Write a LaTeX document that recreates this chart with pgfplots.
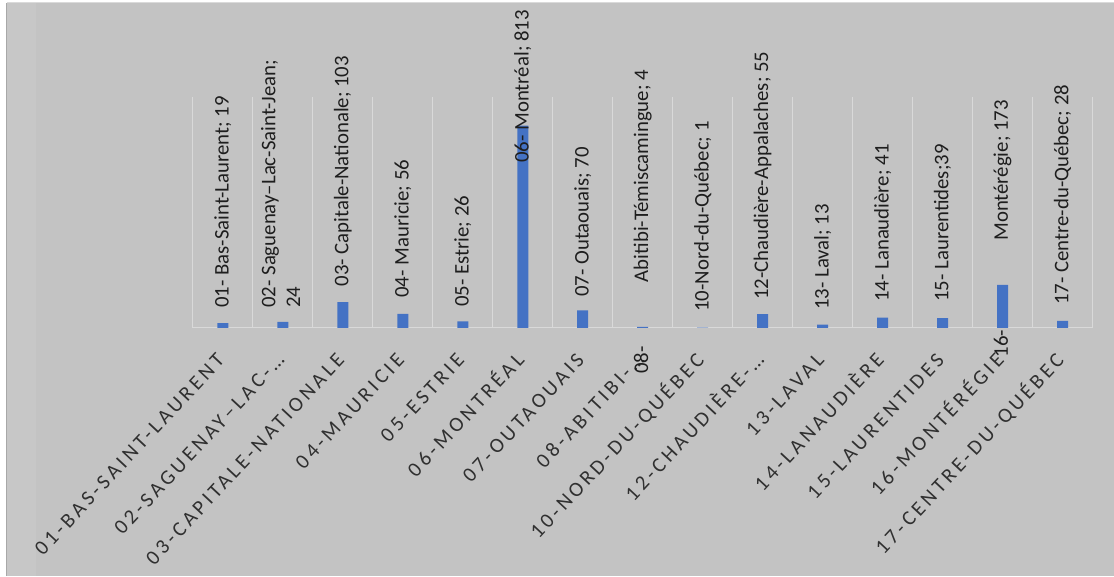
\documentclass[border=0pt]{standalone}
\usepackage{pgfplots}
\pgfplotsset{compat=1.18}
\usepackage{pgfplotstable}
\usepackage{fontspec}
\setmainfont{Carlito}
\newfontfamily\tickfont[LetterSpace=17]{Carlito}
\definecolor{bg}{HTML}{C3C3C3}
\definecolor{bgl}{HTML}{C7C7C7}
\definecolor{gridc}{HTML}{D9D9D9}
\definecolor{barc}{HTML}{4472C4}
\definecolor{labc}{HTML}{1E1E1E}
\definecolor{tickc}{HTML}{303030}
\definecolor{leftc}{HTML}{A8A8A8}
\definecolor{topc}{HTML}{DADADA}
\NewDocumentCommand\twolines{mm}{\begin{tabular}{@{}l@{}}#1\\#2\end{tabular}}
\NewDocumentCommand\semi{}{;}
\NewDocumentCommand\gap{m}{\hspace*{#1pt}}
\pgfplotstableread[col sep=comma]{
x,y,ly,label
0,19,80,01- Bas-Saint-Laurent\semi{} 19
1,24,80,\twolines{02- Saguenay–Lac-Saint-Jean\semi}{24}
2,103,165,03- Capitale-Nationale\semi{} 103
3,56,120,04- Mauricie\semi{} 56
4,26,84,05- Estrie\semi{} 26
5,813,663,06- Montréal\semi{} 813
6,70,124,07- Outaouais\semi{} 70
7,4,-185,08-\gap{48}Abitibi-Témiscamingue\semi{} 4
8,1,64,10-Nord-du-Québec\semi{} 1
9,55,112,12-Chaudière-Appalaches\semi{} 55
10,13,72,13- Laval\semi{} 13
11,41,104,14- Lanaudière\semi{} 41
12,39,104,15- Laurentides\semi{}39
13,173,-120,16-\gap{67}Montérégie\semi{} 173
14,28,92,17- Centre-du-Québec\semi{} 28
}\data
\begin{document}
\begin{tikzpicture}
\fill[white] (0,0) rectangle (835.5pt,432pt);
\fill[bg] (5.25pt,0) rectangle (835.5pt,429.75pt);
\fill[bgl] (5.25pt,0) rectangle (27pt,429.75pt);
\draw[leftc, line width=0.75pt] (5.25pt,0) -- (5.25pt,429.75pt);
\draw[topc, line width=0.75pt] (5.25pt,429.75pt) -- (835.5pt,429.75pt);
\begin{axis}[
  at={(144.75pt,186pt)}, anchor=south west,
  scale only axis, width=675pt, height=173.25pt,
  xmin=-0.5, xmax=14.5, ymin=0, ymax=928,
  clip=false,
  axis x line*=bottom, axis y line=none,
  x axis line style={draw=gridc, line width=0.75pt, -},
  ytick=\empty,
  xtick={0,...,14},
  xticklabels={01-BAS-SAINT-LAURENT,02-SAGUENAY–LAC-…,03-CAPITALE-NATIONALE,04-MAURICIE,05-ESTRIE,06-MONTRÉAL,07-OUTAOUAIS,08-ABITIBI-…,10-NORD-DU-QUÉBEC,12-CHAUDIÈRE-…,13-LAVAL,14-LANAUDIÈRE,15-LAURENTIDES,16-MONTÉRÉGIE,17-CENTRE-DU-QUÉBEC},
  major tick length=0pt, minor tick length=0pt,
  minor xtick={-0.5,0.5,...,14.5},
  xminorgrids,
  minor grid style={draw=gridc, line width=0.75pt},
  xticklabel style={font=\tickfont\fontsize{15.6}{18}\selectfont, text=tickc, inner sep=0pt, xshift=2pt, yshift=-25pt, rotate=47, anchor=base east},
]
\addplot[ybar, bar width=8.25pt, fill=barc, draw=none] table[x=x, y=y]{\data};
\addplot[draw=none, nodes near coords, point meta=explicit symbolic,
  every node near coord/.style={rotate=90, anchor=west, inner sep=0pt, font=\fontsize{15.6}{18.5}\selectfont, text=labc}]
  table[x=x, y=ly, meta=label]{\data};
\end{axis}
\end{tikzpicture}
\end{document}
